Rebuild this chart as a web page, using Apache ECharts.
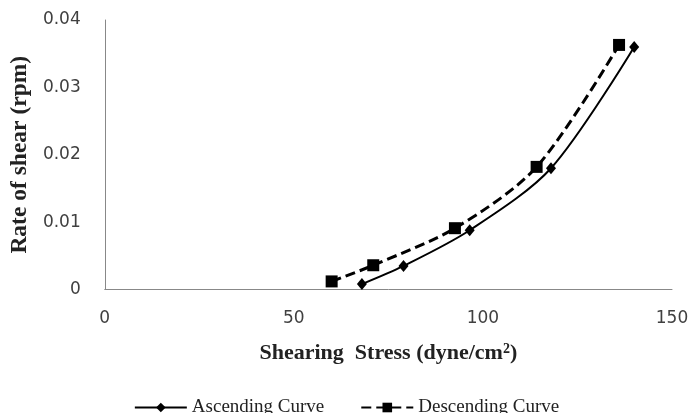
<!DOCTYPE html>
<html>
<head>
<meta charset="utf-8">
<script src="https://cdn.jsdelivr.net/npm/echarts@6/dist/echarts.min.js"></script>
<style>
html,body{margin:0;padding:0;background:#fff;}
#c{width:693px;height:413px;}
</style>
</head>
<body>
<div id="c"></div>
<script>
const ascX = [68, 79, 96.5, 118, 140];
const ascY = [0.0008, 0.0035, 0.0088, 0.018, 0.036];
const desX = [60, 71, 92.6, 114.2, 136];
const desY = [0.0012, 0.0036, 0.0091, 0.0182, 0.0363];
const xTicks = [0, 50, 100, 150];
const yTicks = [0, 0.01, 0.02, 0.03, 0.04];
const seriesNames = ['Ascending Curve', 'Descending Curve'];
const xTitle = 'Shearing  Stress (dyne/cm{sup|2})';
const yTitle = 'Rate of shear (rpm)';

const pair = (xs, ys) => xs.map((x, i) => [x, ys[i]]);
const chart = echarts.init(document.getElementById('c'), null, {renderer: 'canvas'});
const tickFont = {fontFamily: 'DejaVu Sans', fontSize: 17, color: '#404040'};
const titleFont = {fontFamily: 'Liberation Serif', fontWeight: 'bold', fontSize: 22, color: '#222'};
chart.setOption({
  animation: false,
  backgroundColor: '#fff',
  grid: {left: 104.5, right: 21, top: 20, bottom: 123.5},
  xAxis: {
    type: 'value', min: xTicks[0], max: xTicks[xTicks.length - 1], interval: 50,
    axisLine: {lineStyle: {color: '#888', width: 1}},
    axisTick: {show: false},
    splitLine: {show: false},
    axisLabel: Object.assign({margin: 21, formatter: v => String(v)}, tickFont),
    name: xTitle, nameLocation: 'middle', nameGap: 53,
    nameTextStyle: Object.assign({
      rich: {sup: {fontFamily: 'Liberation Serif', fontWeight: 'bold', fontSize: 14, color: '#222', verticalAlign: 'top', padding: [0, 0, 8, 0]}}
    }, titleFont)
  },
  yAxis: {
    type: 'value', min: yTicks[0], max: yTicks[yTicks.length - 1], interval: 0.01,
    axisLine: {show: true, lineStyle: {color: '#888', width: 1}},
    axisTick: {show: false},
    splitLine: {show: false},
    axisLabel: Object.assign({margin: 24, formatter: v => (v === 0 ? '0' : v.toFixed(2))}, tickFont),
    name: yTitle, nameLocation: 'middle', nameGap: 71,
    nameTextStyle: Object.assign({}, titleFont, {fontSize: 23.5})
  },
  legend: {
    top: 393, left: 'center', itemWidth: 52, itemHeight: 12, itemGap: 36,
    textStyle: {fontFamily: 'Liberation Serif', fontSize: 19, color: '#222'},
    data: [
      {name: seriesNames[0]},
      {name: seriesNames[1]}
    ]
  },
  series: [
    {
      name: seriesNames[0], type: 'line', smooth: 0.3,
      data: pair(ascX, ascY),
      symbol: 'diamond', symbolSize: [10, 12],
      lineStyle: {color: '#000', width: 2},
      itemStyle: {color: '#000'}
    },
    {
      name: seriesNames[1], type: 'line', smooth: 0.3,
      data: pair(desX, desY),
      symbol: 'rect', symbolSize: 12,
      lineStyle: {color: '#000', width: 3, type: [10, 5]},
      itemStyle: {color: '#000'}
    }
  ]
});
</script>
</body>
</html>
